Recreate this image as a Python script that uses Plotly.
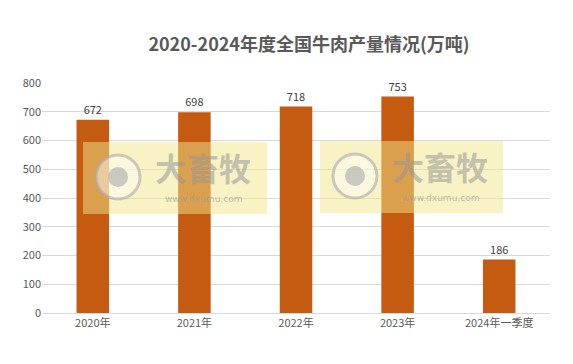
import plotly.graph_objects as go

categories = ["2020年", "2021年", "2022年", "2023年", "2024年一季度"]
values = [672, 698, 718, 753, 186]
y_ticks = [0, 100, 200, 300, 400, 500, 600, 700, 800]

W, H = 573, 364
L, R, T, B = 42, 23, 83, 51
pw, ph = W - L - R, H - T - B

def px(x):
    return (x - L) / pw

def py(y):
    return (H - B - y) / ph

fig = go.Figure()
fig.add_trace(go.Bar(
    x=categories, y=values,
    marker=dict(color="#C55A11", line=dict(width=0)),
    text=[str(v) for v in values], textposition="outside",
    textfont=dict(size=11, color="#404040", family="Noto Sans CJK SC"),
    cliponaxis=False, width=0.32,
))

shapes = []
annotations = []
for (x0, x1, y0, y1, cx, cy) in [(83, 267, 142, 214, 118, 177), (320, 503, 141, 213, 355, 176)]:
    shapes.append(dict(type="rect", xref="paper", yref="paper", x0=px(x0), x1=px(x1), y0=py(y1), y1=py(y0),
                       fillcolor="rgba(242,230,140,0.5)", line=dict(width=0), layer="above"))
    shapes.append(dict(type="circle", xref="paper", yref="paper", x0=px(cx - 22), x1=px(cx + 22), y0=py(cy + 22), y1=py(cy - 22),
                       fillcolor="rgba(255,255,255,0.45)", line=dict(color="rgba(170,170,170,0.6)", width=3), layer="above"))
    shapes.append(dict(type="circle", xref="paper", yref="paper", x0=px(cx - 10), x1=px(cx + 10), y0=py(cy + 10), y1=py(cy - 10),
                       fillcolor="rgba(170,170,170,0.6)", line=dict(width=0), layer="above"))
    annotations.append(dict(text="<b>大畜牧</b>", xref="paper", yref="paper", x=px(cx + 85), y=py(cy + 15),
                            xanchor="center", yanchor="bottom",
                            showarrow=False, font=dict(size=32, color="rgba(150,150,150,0.55)", family="Noto Sans CJK SC")))
    annotations.append(dict(text="www.dxumu.com", xref="paper", yref="paper", x=px(cx + 85), y=py(cy + 15),
                            xanchor="center", yanchor="top",
                            showarrow=False, font=dict(size=9, color="rgba(150,150,150,0.6)", family="DejaVu Sans")))

fig.update_layout(
    width=W, height=H,
    margin=dict(l=L, r=R, t=T, b=B),
    paper_bgcolor="white", plot_bgcolor="white",
    title=dict(text="<b>2020-2024年度全国牛肉产量情况(万吨)</b>", x=(309) / W, xanchor="center",
               y=1 - 45 / H, yanchor="middle",
               font=dict(size=18, color="#595959", family="Noto Sans CJK SC")),
    showlegend=False,
    bargap=0.68,
    shapes=shapes,
    annotations=annotations,
    font=dict(family="Noto Sans CJK SC", color="#595959", size=11),
)
fig.update_xaxes(showgrid=False, showline=True, linecolor="#D9D9D9", linewidth=1, ticks="",
                 tickfont=dict(size=11, color="#595959"))
fig.update_yaxes(range=[0, 800], tickvals=y_ticks, showgrid=True, gridcolor="#D9D9D9", gridwidth=1,
                 zeroline=False, showline=False, ticks="", tickfont=dict(size=11, color="#595959"))

fig.write_html("out.html")
